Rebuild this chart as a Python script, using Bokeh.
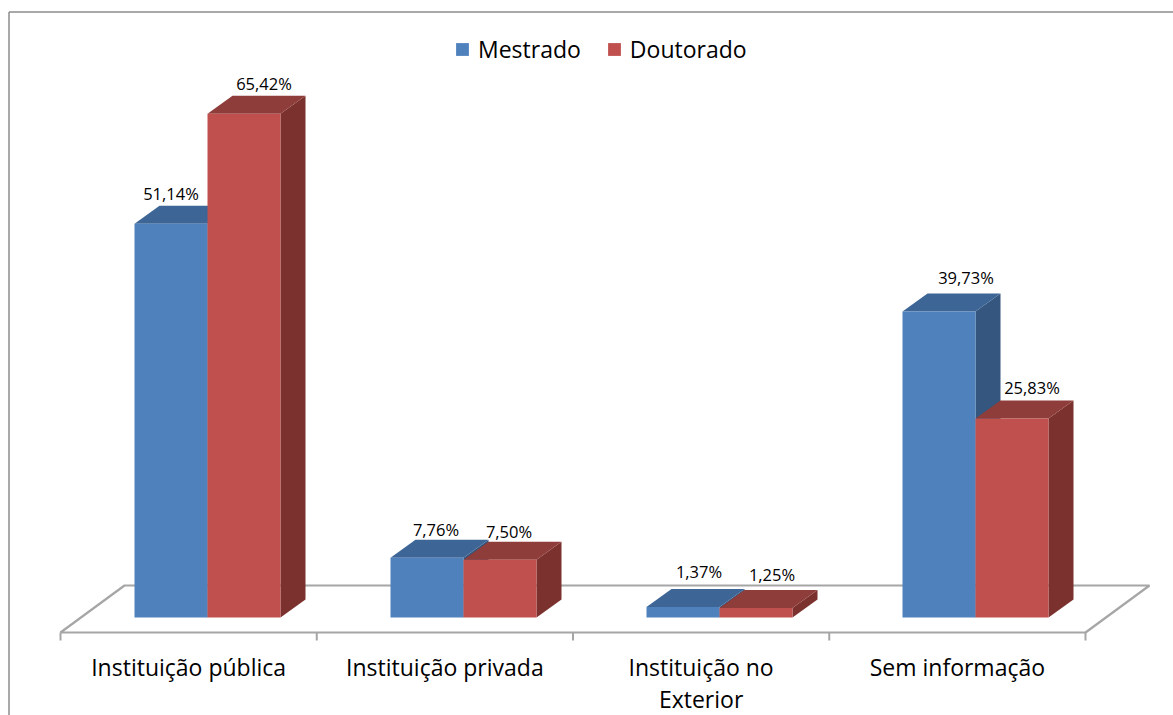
from bokeh.plotting import figure
from bokeh.models import Range1d, ColumnDataSource, Legend, LegendItem
from bokeh.core.properties import value
from bokeh.embed import file_html
from bokeh.resources import INLINE

# ---------------- data ----------------
categories = ["Instituição pública", "Instituição privada", "Instituição no\nExterior", "Sem informação"]
series_names = ["Mestrado", "Doutorado"]
mestrado = [51.14, 7.76, 1.37, 39.73]
doutorado = [65.42, 7.50, 1.25, 25.83]

# ---------------- layout / style ----------------
W, H = 1173, 715
PX_CAT = 256.0          # pixels per category
PX_PCT = 7.7            # pixels per percent
X0_PX = 207.0           # canvas x of the centre of the first bar pair
Y0_PX = 617.0           # canvas y (from top) of value 0
BAR_W = 73 / PX_CAT
DX = 25 / PX_CAT        # depth offset (x)
DY = 18 / PX_PCT        # depth offset (y)
FONT = "Open Sans"

front_colors = ["#4F81BD", "#C0504D"]
top_colors = ["#3D6696", "#8F3D3A"]
side_colors = ["#34567F", "#7B312E"]
floor_color = "#A6A6A6"
border_color = "#8C8C8C"

# label nudges in screen px (dx, dy above the back edge of the top)
nudge_dx = [[0, 9, 16, 27], [20, 9, 16, 20]]
nudge_dy = [[12, 10, 17, 16], [12, 10, 15, 13]]

def fx(px):
    return px / PX_CAT

def fy(px):
    return px / PX_PCT

p = figure(width=W, height=H,
           x_range=Range1d(-X0_PX / PX_CAT, (W - X0_PX) / PX_CAT),
           y_range=Range1d(-(H - Y0_PX) / PX_PCT, Y0_PX / PX_PCT),
           x_axis_type=None, y_axis_type=None,
           min_border=0, toolbar_location=None, output_backend="svg")
p.grid.visible = False
p.outline_line_color = None
p.background_fill_color = "white"
p.border_fill_color = "white"

# chart border (top and left, the rest is cropped in the reference)
xl = p.x_range.start + fx(8.5)
yt = p.y_range.end - fy(11.5)
p.segment(x0=[xl, xl], y0=[yt, yt], x1=[p.x_range.end, xl], y1=[yt, p.y_range.start],
          line_color=border_color, line_width=1.5)

# floor (3D base plane)
n = len(categories)
f_left = -fx(147)
f_right = f_left + n * fx(256.25)
f_front = -fy(15)
f_back = fy(32)
f_depth = fx(64)
p.patch(x=[f_left, f_right, f_right + f_depth, f_left + f_depth],
        y=[f_front, f_front, f_back, f_back],
        fill_color="white", line_color=floor_color, line_width=2.2)
tick_x = [f_left + k * fx(256.25) for k in range(n + 1)]
p.segment(x0=tick_x, y0=[f_front] * (n + 1), x1=tick_x, y1=[f_front - fy(8)] * (n + 1),
          line_color=floor_color, line_width=2)

# 3D sides and tops (ordered for correct overlap)
xs, ys, cols = [], [], []
fronts = [dict(left=[], right=[], top=[]) for _ in series_names]
labels = dict(x=[], y=[], text=[])
for i in range(n):
    for s, vals in enumerate([mestrado, doutorado]):
        v = vals[i]
        left = i - BAR_W + s * BAR_W
        right = left + BAR_W
        # side
        xs.append([right, right + DX, right + DX, right])
        ys.append([0, DY, v + DY, v])
        cols.append(side_colors[s])
        # top
        xs.append([left, right, right + DX, left + DX])
        ys.append([v, v, v + DY, v + DY])
        cols.append(top_colors[s])
        fronts[s]["left"].append(left)
        fronts[s]["right"].append(right)
        fronts[s]["top"].append(v)
        labels["x"].append((left + right) / 2 + fx(nudge_dx[s][i]))
        labels["y"].append(v + DY + fy(nudge_dy[s][i]))
        labels["text"].append(f"{v:.2f}%".replace(".", ","))

p.patches(xs=xs, ys=ys, fill_color=cols, line_color=None)

renderers = []
for s, name in enumerate(series_names):
    src = ColumnDataSource(dict(left=fronts[s]["left"], right=fronts[s]["right"],
                                top=fronts[s]["top"], bottom=[0] * n))
    r = p.quad(left="left", right="right", top="top", bottom="bottom", source=src,
               fill_color=front_colors[s], line_color=None)
    renderers.append(r)

# value labels
p.text(x=labels["x"], y=labels["y"], text=labels["text"],
       text_font=value(FONT), text_font_size="16.5px", text_color="#000000",
       text_align="center", text_baseline="middle")

# category labels
cat_x = [f_left + (k + 0.5) * fx(256.25) for k in range(n)]
p.text(x=cat_x, y=[fy(Y0_PX - 650)] * n, text=categories,
       text_font=value(FONT), text_font_size="23px", text_color="#000000",
       text_align="center", text_baseline="top", text_line_height=1.0)

legend = Legend(items=[LegendItem(label=name, renderers=[renderers[s]]) for s, name in enumerate(series_names)],
                orientation="horizontal", location=(454, 650),
                border_line_color=None, background_fill_alpha=0,
                padding=0, margin=0, spacing=25, label_standoff=8,
                glyph_width=16, glyph_height=16,
                label_text_font=FONT, label_text_font_size="23px", label_text_color="#000000")
p.add_layout(legend)

open("out.html", "w").write(file_html(p, INLINE))
